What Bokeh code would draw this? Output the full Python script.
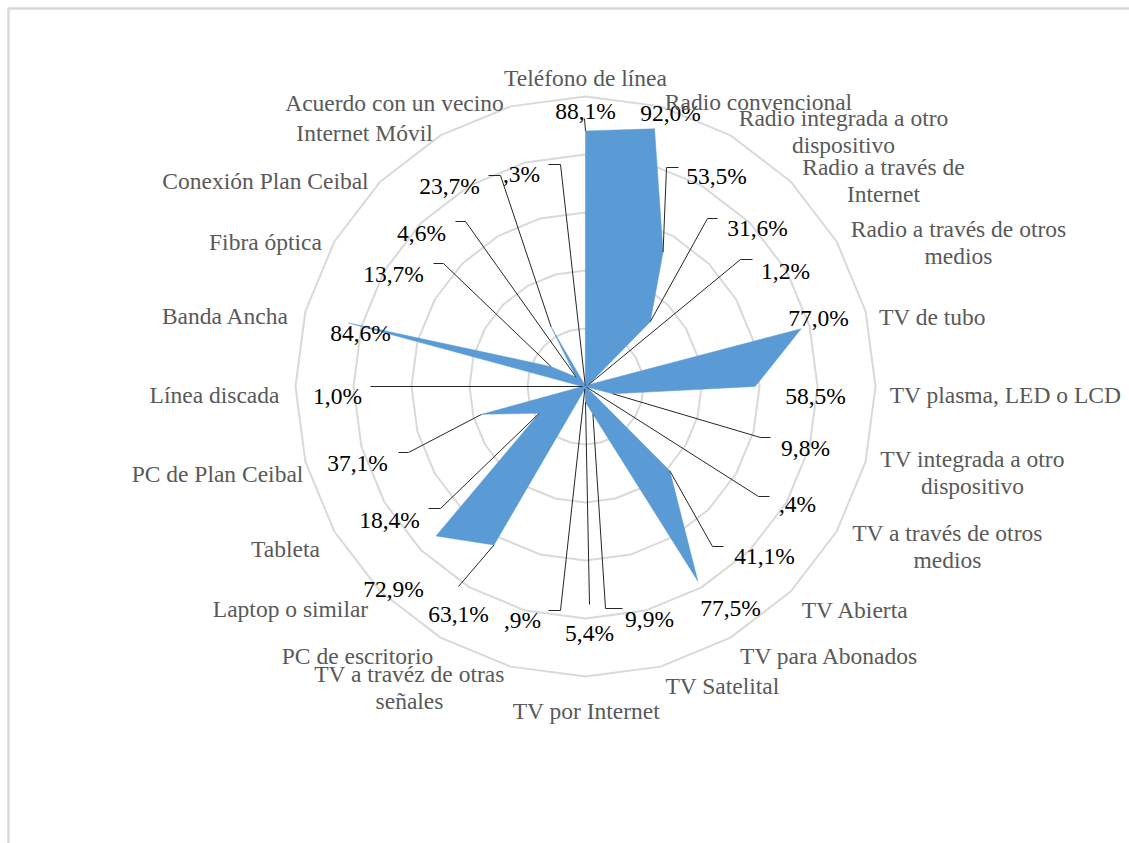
import math
from bokeh.plotting import figure
from bokeh.models import Range1d
from bokeh.core.properties import value
from bokeh.embed import file_html
from bokeh.resources import INLINE

# ---------------- data ----------------
categories = [
    "Teléfono de línea", "Radio convencional", "Radio integrada a otro\ndispositivo",
    "Radio a través de\nInternet", "Radio a través de otros\nmedios", "TV de tubo",
    "TV plasma, LED o LCD", "TV integrada a otro\ndispositivo", "TV a través de otros\nmedios",
    "TV Abierta", "TV para Abonados", "TV Satelital", "TV por Internet",
    "TV a travéz de otras\nseñales", "PC de escritorio", "Laptop o similar", "Tableta",
    "PC de Plan Ceibal", "Línea discada", "Banda Ancha", "Fibra óptica",
    "Conexión Plan Ceibal", "Internet Móvil", "Acuerdo con un vecino",
]
values = [88.1, 92.0, 53.5, 31.6, 1.2, 77.0, 58.5, 9.8, 0.4, 41.1, 77.5, 9.9,
          5.4, 0.9, 63.1, 72.9, 18.4, 37.1, 1.0, 84.6, 13.7, 4.6, 23.7, 0.3]
value_labels = ["88,1%", "92,0%", "53,5%", "31,6%", "1,2%", "77,0%", "58,5%", "9,8%",
                ",4%", "41,1%", "77,5%", "9,9%", "5,4%", ",9%", "63,1%", "72,9%",
                "18,4%", "37,1%", "1,0%", "84,6%", "13,7%", "4,6%", "23,7%", ",3%"]
grid_levels = [20, 40, 60, 80, 100]

# ---------------- layout (pixel positions, not data) ----------------
CX, CY, R = 585.0, 386.0, 290.0
# value-label position: (x centre, baseline y)
vlab_pos = [(585, 110), (670, 112), (716, 175), (757, 227), (785, 270), (818, 317),
            (815, 395), (805, 447), (797, 503), (764, 555), (730, 607), (649, 618),
            (589, 632), (522, 619), (458, 613), (393, 588), (389, 519), (357, 462),
            (337, 395), (360, 332), (393, 273), (421, 232), (449, 185), (521, 173)]
# leader: (x0, y0, x1) -> horizontal (x0,y0)-(x1,y0) then to the data point; None = none
leaders = [(584, 118, 584), None, (678, 167, 666), (717, 218, 707), (752, 259, 740),
           None, None, (770, 437, 760), (769, 496, 758), (723, 546, 712), None,
           (622, 608, 605), (589, 604, 589), (548, 610, 560), (458, 586, 458), None,
           (428, 508, 440), (398, 452, 408), (370, 386, 370), None, (433, 263, 443),
           (455, 221, 465), (488, 175, 500), (548, 164, 560)]
# category label: (x centre, baseline of first line)
cat_pos = [(585, 77), (758, 101), (843, 117), (883, 166), (958, 228), (932, 316),
           (1005, 394), (972, 458), (947, 532), (855, 609), (829, 655), (722, 685),
           (586, 710), (409, 673), (357, 655), (290, 608), (285, 548), (217, 473),
           (214, 394), (225, 315), (265, 241), (265, 180), (364, 132), (394, 102)]
LINE_GAP = 27

n = len(categories)
ang = [2 * math.pi * i / n for i in range(n)]


def pt(v, a):
    r = v / 100.0 * R
    return CX + r * math.sin(a), CY - r * math.cos(a)


p = figure(width=1129, height=843, output_backend="svg", toolbar_location=None,
           x_range=Range1d(0, 1129), y_range=Range1d(843, 0),
           x_axis_location=None, y_axis_location=None, min_border=0,
           outline_line_color=None, background_fill_color="white",
           border_fill_color="white")
p.xgrid.visible = False
p.ygrid.visible = False

# chart border (partly outside the picture)
p.line([8, 8, 1135], [850, 8, 8], line_color="#d9d9d9", line_width=2.5)

# grid rings
gx, gy = [], []
for lv in grid_levels:
    pts = [pt(lv, a) for a in ang] + [pt(lv, ang[0])]
    gx.append([q[0] for q in pts])
    gy.append([q[1] for q in pts])
p.multi_line(gx, gy, line_color="#d9d9d9", line_width=2)

# data area
dpts = [pt(v, a) for v, a in zip(values, ang)]
p.patch([q[0] for q in dpts], [q[1] for q in dpts], fill_color="#5b9bd5",
        line_color="#5b9bd5", line_width=0.5)

# leader lines
lx, ly = [], []
for i, ld in enumerate(leaders):
    if ld is None:
        continue
    x0, y0, x1 = ld
    px_, py_ = dpts[i]
    lx.append([x0, x1, px_])
    ly.append([y0, y0, py_])
p.multi_line(lx, ly, line_color="#262626", line_width=1)

font = value("'Liberation Serif', 'Times New Roman', serif")
# value labels
p.text(x=[q[0] for q in vlab_pos], y=[q[1] for q in vlab_pos], text=value_labels,
       text_font=font, text_font_size="23.5px", text_color="#000000",
       text_align="center", text_baseline="alphabetic")

# category labels
tx, ty, tt = [], [], []
for (x, y), c in zip(cat_pos, categories):
    for k, line in enumerate(c.split("\n")):
        tx.append(x)
        ty.append(y + k * LINE_GAP)
        tt.append(line)
p.text(x=tx, y=ty, text=tt, text_font=font, text_font_size="23.5px",
       text_color="#595959", text_align="center", text_baseline="alphabetic")

open("out.html", "w").write(file_html(p, INLINE))
